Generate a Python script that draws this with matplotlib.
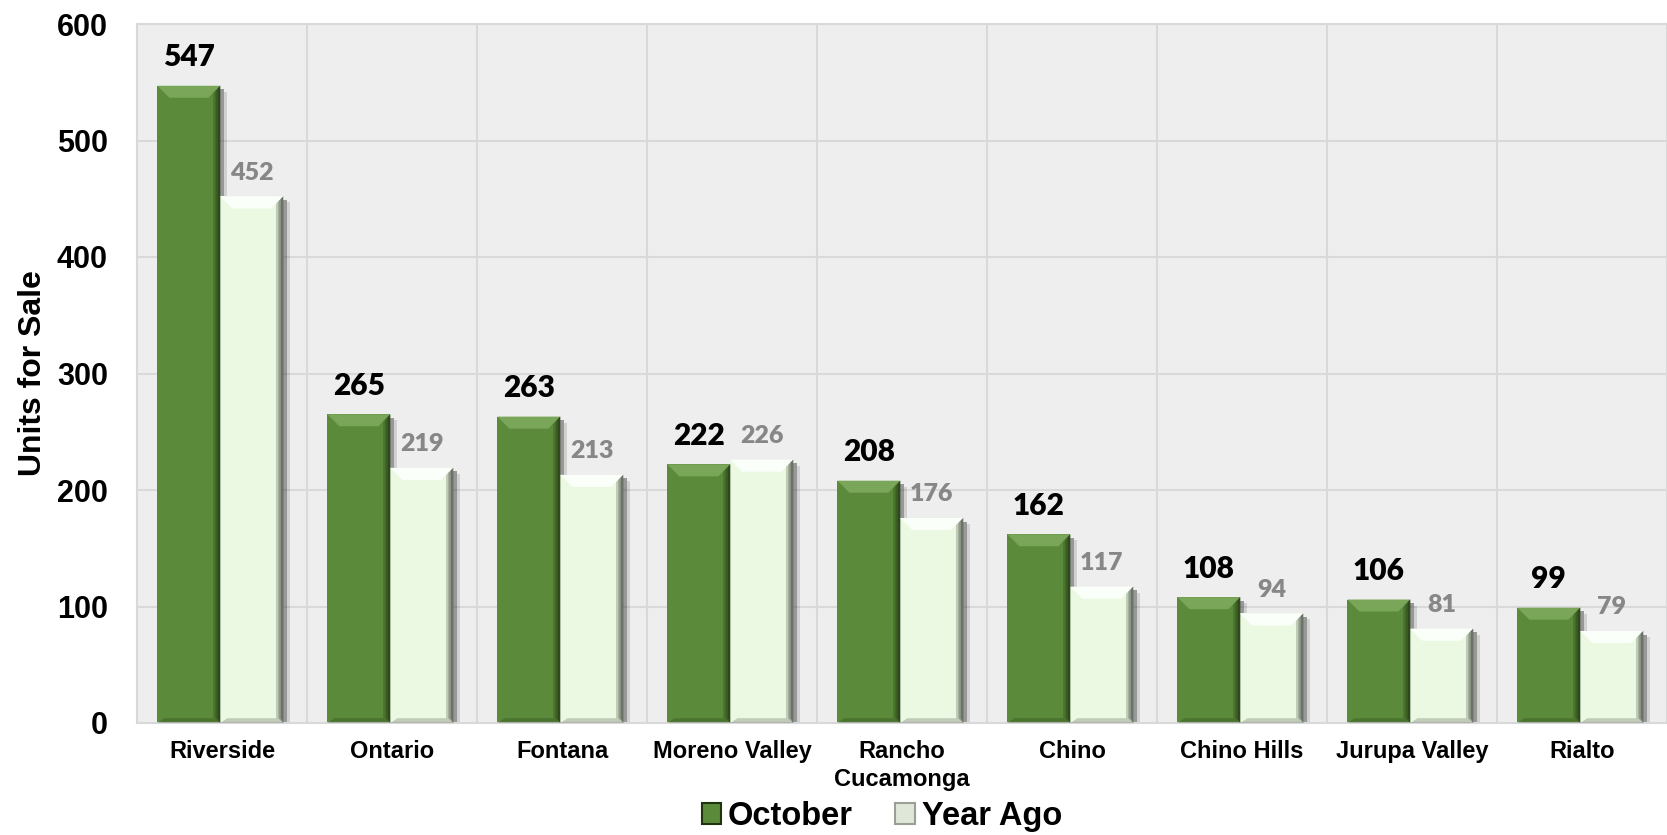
import numpy as np
import matplotlib
matplotlib.use('Agg')
import matplotlib.pyplot as plt
from matplotlib.patches import Polygon, Rectangle

cities = ['Riverside', 'Ontario', 'Fontana', 'Moreno Valley', 'Rancho\nCucamonga',
          'Chino', 'Chino Hills', 'Jurupa Valley', 'Rialto']
october = [547, 265, 263, 222, 208, 162, 108, 106, 99]
year_ago = [452, 219, 213, 226, 176, 117, 94, 81, 79]

green = '#5b8a3a'
green_top = '#7aa65a'
green_dark = '#1e3310'
pale = '#ecf9e2'
pale_top = '#fbfffa'
pale_dark = '#3d423b'


def bevel(ax, bars, top, side, dx, dy):
    # fake the bevelled look of the original bars
    for b in bars:
        x0, y0 = b.get_x(), b.get_y()
        x1, y1 = x0 + b.get_width(), y0 + b.get_height()
        d = min(dy, b.get_height() / 3)
        ax.add_patch(Polygon([(x0, y1), (x1, y1), (x1 - dx, y1 - d), (x0 + dx, y1 - d)],
                             closed=True, facecolor=top, edgecolor='none', zorder=3))
        # darker right edge, done as a few strips to look soft
        for k, a in [(0.6, 0.25), (0.4, 0.35), (0.2, 0.45)]:
            ax.add_patch(Polygon([(x1, y1), (x1, y0), (x1 - dx * k, y0 + d * 0.4),
                                  (x1 - dx * k, y1 - d * k)],
                                 closed=True, facecolor=side, edgecolor='none', alpha=a, zorder=3))
        ax.add_patch(Polygon([(x0, y0), (x1, y0), (x1 - dx * 0.6, y0 + d * 0.4),
                              (x0 + dx * 0.6, y0 + d * 0.4)],
                             closed=True, facecolor=side, edgecolor='none', alpha=0.25, zorder=3))
        # drop shadow
        ax.add_patch(Rectangle((x1, y0), dx * 0.3, b.get_height() - d * 0.3,
                               facecolor='#303030', alpha=0.45, edgecolor='none', zorder=1.5))
        ax.add_patch(Rectangle((x1 + dx * 0.3, y0), dx * 0.25, b.get_height() - d * 0.5,
                               facecolor='#303030', alpha=0.15, edgecolor='none', zorder=1.5))


fig = plt.figure(figsize=(16.67, 8.35), dpi=100)
ax = fig.add_axes([137 / 1667, 112 / 835, 1530 / 1667, 699 / 835])
ax.set_facecolor('#eeeeee')

x = np.arange(len(cities))
w = 0.37
b1 = ax.bar(x - 0.195, october, w, color=green, zorder=2)
b2 = ax.bar(x + 0.175, year_ago, w, color=pale, zorder=2)

ax.set_xlim(-0.5, len(cities) - 0.5)
ax.set_ylim(0, 600)

dx = 12 * len(cities) / 1530
dy = 12 * 600 / 699
bevel(ax, b1, green_top, green_dark, dx, dy)
bevel(ax, b2, pale_top, pale_dark, dx, dy)

for b, v in zip(b1, october):
    ax.annotate(str(v), (b.get_x() + b.get_width() / 2, v), xytext=(0, 14),
                textcoords='offset points', ha='center', va='baseline',
                fontsize=21.5, fontweight='heavy', family='Lato', color='black')
for b, v in zip(b2, year_ago):
    ax.annotate(str(v), (b.get_x() + b.get_width() / 2, v), xytext=(0, 12),
                textcoords='offset points', ha='center', va='baseline',
                fontsize=18, fontweight='heavy', family='Lato', color='#878787')

ax.set_yticks([0, 100, 200, 300, 400, 500, 600])
ax.set_xticks(x)
ax.set_xticklabels(cities, fontsize=17, fontweight='bold', family='Liberation Sans',
                   linespacing=1.3)
ax.set_xticks(np.arange(-0.5, len(cities), 1), minor=True)
for lab in ax.get_yticklabels():
    lab.set_fontsize(22)
    lab.set_fontweight('bold')
    lab.set_family('Liberation Sans')
ax.tick_params(axis='both', which='both', length=0)
ax.tick_params(axis='y', pad=21)
ax.tick_params(axis='x', pad=12)

ax.grid(axis='y', which='major', color='#d9d9d9', linewidth=1.5, zorder=0)
ax.grid(axis='x', which='minor', color='#d9d9d9', linewidth=1.5, zorder=0)
ax.grid(axis='x', which='major', visible=False)
ax.set_axisbelow(True)
for s in ax.spines.values():
    s.set_color('#d9d9d9')
    s.set_linewidth(1.5)

ax.set_ylabel('Units for Sale', fontsize=23, fontweight='bold', family='Liberation Sans')
ax.yaxis.set_label_coords(-0.058, 0.5)

handles = [Rectangle((0, 0), 1, 1, facecolor=green, edgecolor=green_dark, linewidth=1.5),
           Rectangle((0, 0), 1, 1, facecolor='#dfe8d8', edgecolor='#9aa096', linewidth=1.5)]
fig.legend(handles, ['October', 'Year Ago'], loc='center', bbox_to_anchor=(0.529, 0.022),
           ncol=2, frameon=False, handlelength=0.6, handleheight=0.6,
           handletextpad=0.2, columnspacing=1.3,
           prop={'family': 'Liberation Sans', 'weight': 'bold', 'size': 23.5})

fig.savefig('out.png', dpi=100)
